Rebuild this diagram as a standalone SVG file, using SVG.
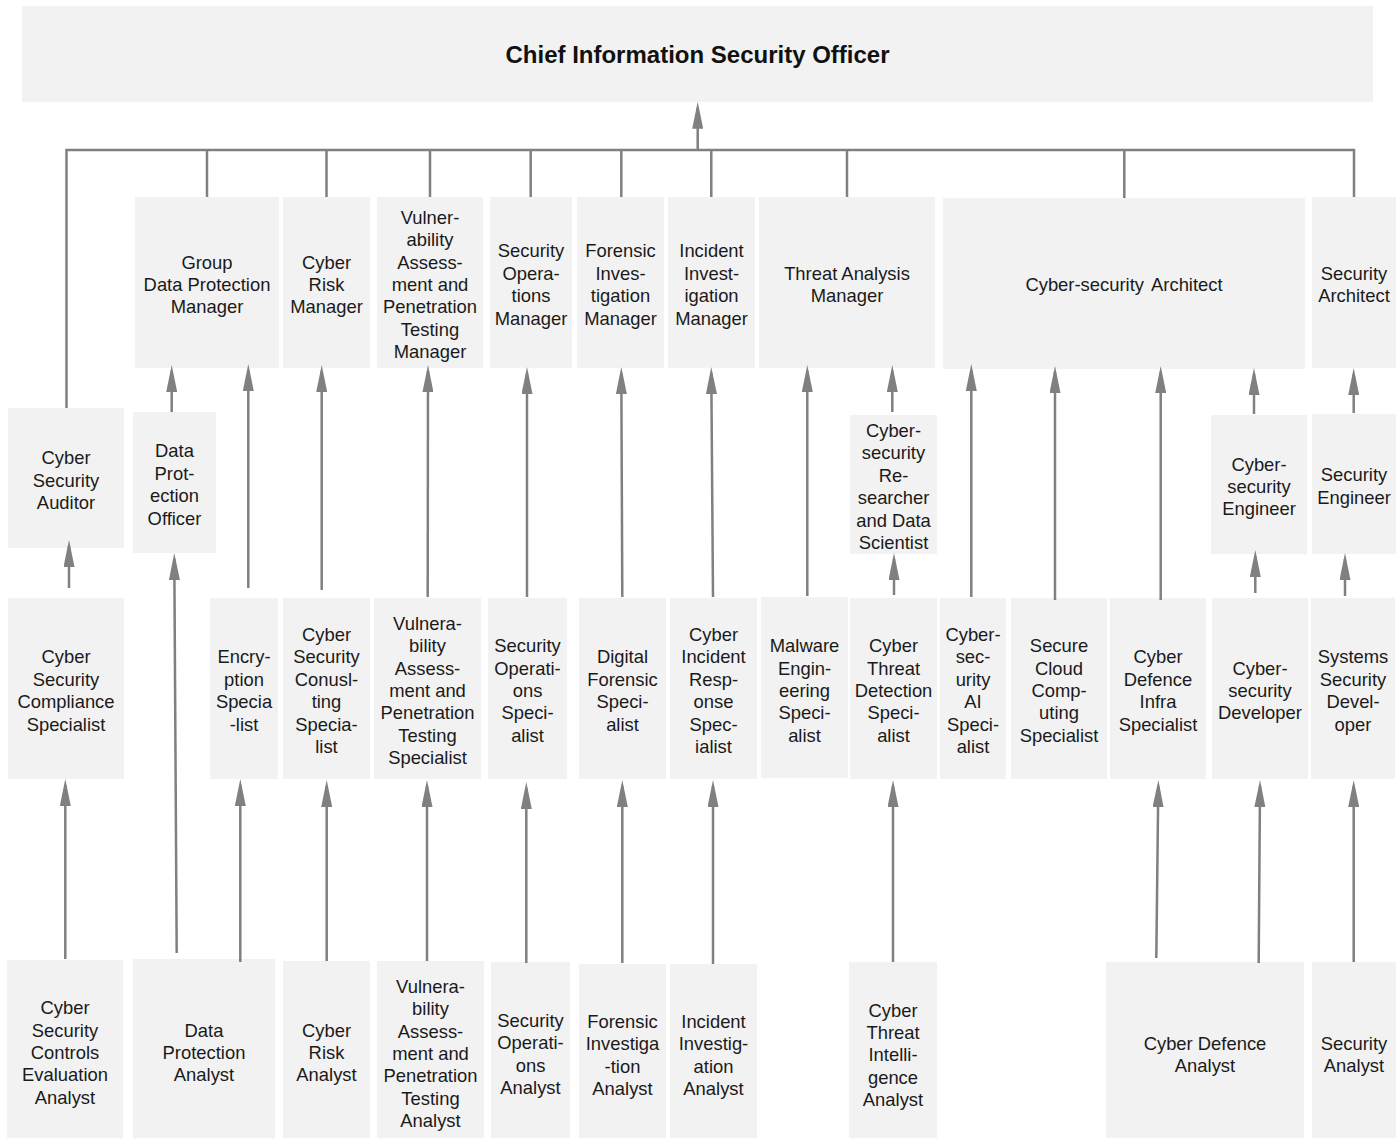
<svg xmlns="http://www.w3.org/2000/svg" width="1400" height="1139" viewBox="0 0 1400 1139">
<style>
.box{fill:#f2f2f2}
.lbl{font-family:"Liberation Sans",Arial,sans-serif;font-size:18.4px;fill:#1a1a1a;text-anchor:middle}
.title{font-family:"Liberation Sans",Arial,sans-serif;font-size:24px;font-weight:bold;fill:#111;text-anchor:middle}
.conn{stroke:#808080;stroke-width:2.5;fill:none}
.arr{stroke:#808080;stroke-width:2.5;fill:none;marker-end:url(#ah)}
</style>
<defs>
<marker id="ah" viewBox="0 0 27 11" refX="21" refY="5.5" markerWidth="27" markerHeight="11" markerUnits="userSpaceOnUse" orient="auto">
<path d="M0,0 L27,5.5 L0,11 z" fill="#808080"/>
</marker>
</defs>
<rect width="1400" height="1139" fill="#ffffff"/>

<g id="ciso"><rect class="box" x="22" y="6" width="1351" height="96"/><text class="title" x="697.5" y="63">Chief Information Security Officer</text></g>

<!-- Managers -->
<g id="group-dpm"><rect class="box" x="135" y="197" width="144" height="171"/><text class="lbl" y="268.6"><tspan x="207">Group</tspan><tspan x="207" dy="22.4">Data Protection</tspan><tspan x="207" dy="22.4">Manager</tspan></text></g>
<g id="cyber-risk-manager"><rect class="box" x="283" y="197" width="87" height="171"/><text class="lbl" y="268.6"><tspan x="326.5">Cyber</tspan><tspan x="326.5" dy="22.4">Risk</tspan><tspan x="326.5" dy="22.4">Manager</tspan></text></g>
<g id="vapt-manager"><rect class="box" x="377" y="197" width="106" height="171"/><text class="lbl" y="223.8"><tspan x="430">Vulner-</tspan><tspan x="430" dy="22.4">ability</tspan><tspan x="430" dy="22.4">Assess-</tspan><tspan x="430" dy="22.4">ment and</tspan><tspan x="430" dy="22.4">Penetration</tspan><tspan x="430" dy="22.4">Testing</tspan><tspan x="430" dy="22.4">Manager</tspan></text></g>
<g id="secops-manager"><rect class="box" x="490" y="197" width="82" height="171"/><text class="lbl" y="257.4"><tspan x="531">Security</tspan><tspan x="531" dy="22.4">Opera-</tspan><tspan x="531" dy="22.4">tions</tspan><tspan x="531" dy="22.4">Manager</tspan></text></g>
<g id="forensic-manager"><rect class="box" x="577" y="197" width="87" height="171"/><text class="lbl" y="257.4"><tspan x="620.5">Forensic</tspan><tspan x="620.5" dy="22.4">Inves-</tspan><tspan x="620.5" dy="22.4">tigation</tspan><tspan x="620.5" dy="22.4">Manager</tspan></text></g>
<g id="incident-manager"><rect class="box" x="668" y="197" width="87" height="171"/><text class="lbl" y="257.4"><tspan x="711.5">Incident</tspan><tspan x="711.5" dy="22.4">Invest-</tspan><tspan x="711.5" dy="22.4">igation</tspan><tspan x="711.5" dy="22.4">Manager</tspan></text></g>
<g id="threat-analysis-manager"><rect class="box" x="759" y="197" width="176" height="171"/><text class="lbl" y="279.8"><tspan x="847">Threat Analysis</tspan><tspan x="847" dy="22.4">Manager</tspan></text></g>
<g id="cs-architect"><rect class="box" x="943" y="198" width="362" height="171"/><text class="lbl" x="1124" y="290.5" word-spacing="3">Cyber-security Architect</text></g>
<g id="security-architect"><rect class="box" x="1312" y="197" width="84" height="171"/><text class="lbl" y="279.8"><tspan x="1354">Security</tspan><tspan x="1354" dy="22.4">Architect</tspan></text></g>

<!-- Level 2 -->
<g id="cs-auditor"><rect class="box" x="8" y="408" width="116" height="140"/><text class="lbl" y="464.1"><tspan x="66">Cyber</tspan><tspan x="66" dy="22.4">Security</tspan><tspan x="66" dy="22.4">Auditor</tspan></text></g>
<g id="dpo"><rect class="box" x="133" y="412" width="83" height="141"/><text class="lbl" y="457.4"><tspan x="174.5">Data</tspan><tspan x="174.5" dy="22.4">Prot-</tspan><tspan x="174.5" dy="22.4">ection</tspan><tspan x="174.5" dy="22.4">Officer</tspan></text></g>
<g id="cs-researcher"><rect class="box" x="850" y="415" width="87" height="139"/><text class="lbl" y="437"><tspan x="893.5">Cyber-</tspan><tspan x="893.5" dy="22.4">security</tspan><tspan x="893.5" dy="22.4">Re-</tspan><tspan x="893.5" dy="22.4">searcher</tspan><tspan x="893.5" dy="22.4">and Data</tspan><tspan x="893.5" dy="22.4">Scientist</tspan></text></g>
<g id="cs-engineer"><rect class="box" x="1211" y="415" width="96" height="139"/><text class="lbl" y="470.6"><tspan x="1259">Cyber-</tspan><tspan x="1259" dy="22.4">security</tspan><tspan x="1259" dy="22.4">Engineer</tspan></text></g>
<g id="security-engineer"><rect class="box" x="1312" y="414" width="84" height="140"/><text class="lbl" y="481.3"><tspan x="1354">Security</tspan><tspan x="1354" dy="22.4">Engineer</tspan></text></g>

<!-- Level 3 -->
<g id="compliance-specialist"><rect class="box" x="8" y="598" width="116" height="181"/><text class="lbl" y="663.4"><tspan x="66">Cyber</tspan><tspan x="66" dy="22.4">Security</tspan><tspan x="66" dy="22.4">Compliance</tspan><tspan x="66" dy="22.4">Specialist</tspan></text></g>
<g id="encryption-specialist"><rect class="box" x="210" y="598" width="68" height="181"/><text class="lbl" y="663.4"><tspan x="244">Encry-</tspan><tspan x="244" dy="22.4">ption</tspan><tspan x="244" dy="22.4">Specia</tspan><tspan x="244" dy="22.4">-list</tspan></text></g>
<g id="consulting-specialist"><rect class="box" x="283" y="598" width="87" height="181"/><text class="lbl" y="641"><tspan x="326.5">Cyber</tspan><tspan x="326.5" dy="22.4">Security</tspan><tspan x="326.5" dy="22.4">Conusl-</tspan><tspan x="326.5" dy="22.4">ting</tspan><tspan x="326.5" dy="22.4">Specia-</tspan><tspan x="326.5" dy="22.4">list</tspan></text></g>
<g id="vapt-specialist"><rect class="box" x="374" y="598" width="107" height="181"/><text class="lbl" y="629.8"><tspan x="427.5">Vulnera-</tspan><tspan x="427.5" dy="22.4">bility</tspan><tspan x="427.5" dy="22.4">Assess-</tspan><tspan x="427.5" dy="22.4">ment and</tspan><tspan x="427.5" dy="22.4">Penetration</tspan><tspan x="427.5" dy="22.4">Testing</tspan><tspan x="427.5" dy="22.4">Specialist</tspan></text></g>
<g id="secops-specialist"><rect class="box" x="488" y="598" width="79" height="181"/><text class="lbl" y="652.2"><tspan x="527.5">Security</tspan><tspan x="527.5" dy="22.4">Operati-</tspan><tspan x="527.5" dy="22.4">ons</tspan><tspan x="527.5" dy="22.4">Speci-</tspan><tspan x="527.5" dy="22.4">alist</tspan></text></g>
<g id="digital-forensic-specialist"><rect class="box" x="579" y="598" width="87" height="181"/><text class="lbl" y="663.4"><tspan x="622.5">Digital</tspan><tspan x="622.5" dy="22.4">Forensic</tspan><tspan x="622.5" dy="22.4">Speci-</tspan><tspan x="622.5" dy="22.4">alist</tspan></text></g>
<g id="incident-response-specialist"><rect class="box" x="670" y="598" width="87" height="181"/><text class="lbl" y="641"><tspan x="713.5">Cyber</tspan><tspan x="713.5" dy="22.4">Incident</tspan><tspan x="713.5" dy="22.4">Resp-</tspan><tspan x="713.5" dy="22.4">onse</tspan><tspan x="713.5" dy="22.4">Spec-</tspan><tspan x="713.5" dy="22.4">ialist</tspan></text></g>
<g id="malware-specialist"><rect class="box" x="761" y="597" width="87" height="181"/><text class="lbl" y="652.2"><tspan x="804.5">Malware</tspan><tspan x="804.5" dy="22.4">Engin-</tspan><tspan x="804.5" dy="22.4">eering</tspan><tspan x="804.5" dy="22.4">Speci-</tspan><tspan x="804.5" dy="22.4">alist</tspan></text></g>
<g id="threat-detection-specialist"><rect class="box" x="850" y="598" width="87" height="181"/><text class="lbl" y="652.2"><tspan x="893.5">Cyber</tspan><tspan x="893.5" dy="22.4">Threat</tspan><tspan x="893.5" dy="22.4">Detection</tspan><tspan x="893.5" dy="22.4">Speci-</tspan><tspan x="893.5" dy="22.4">alist</tspan></text></g>
<g id="ai-specialist"><rect class="box" x="940" y="598" width="66" height="181"/><text class="lbl" y="641"><tspan x="973">Cyber-</tspan><tspan x="973" dy="22.4">sec-</tspan><tspan x="973" dy="22.4">urity</tspan><tspan x="973" dy="22.4">AI</tspan><tspan x="973" dy="22.4">Speci-</tspan><tspan x="973" dy="22.4">alist</tspan></text></g>
<g id="cloud-specialist"><rect class="box" x="1011" y="598" width="96" height="181"/><text class="lbl" y="652.2"><tspan x="1059">Secure</tspan><tspan x="1059" dy="22.4">Cloud</tspan><tspan x="1059" dy="22.4">Comp-</tspan><tspan x="1059" dy="22.4">uting</tspan><tspan x="1059" dy="22.4">Specialist</tspan></text></g>
<g id="infra-specialist"><rect class="box" x="1110" y="598" width="96" height="181"/><text class="lbl" y="663.4"><tspan x="1158">Cyber</tspan><tspan x="1158" dy="22.4">Defence</tspan><tspan x="1158" dy="22.4">Infra</tspan><tspan x="1158" dy="22.4">Specialist</tspan></text></g>
<g id="cs-developer"><rect class="box" x="1212" y="598" width="96" height="181"/><text class="lbl" y="674.6"><tspan x="1260">Cyber-</tspan><tspan x="1260" dy="22.4">security</tspan><tspan x="1260" dy="22.4">Developer</tspan></text></g>
<g id="sys-sec-developer"><rect class="box" x="1311" y="598" width="84" height="181"/><text class="lbl" y="663.4"><tspan x="1353">Systems</tspan><tspan x="1353" dy="22.4">Security</tspan><tspan x="1353" dy="22.4">Devel-</tspan><tspan x="1353" dy="22.4">oper</tspan></text></g>

<!-- Level 4 -->
<g id="controls-analyst"><rect class="box" x="7" y="960" width="116" height="178"/><text class="lbl" y="1014.2"><tspan x="65">Cyber</tspan><tspan x="65" dy="22.4">Security</tspan><tspan x="65" dy="22.4">Controls</tspan><tspan x="65" dy="22.4">Evaluation</tspan><tspan x="65" dy="22.4">Analyst</tspan></text></g>
<g id="dp-analyst"><rect class="box" x="133" y="959" width="142" height="179"/><text class="lbl" y="1036.6"><tspan x="204">Data</tspan><tspan x="204" dy="22.4">Protection</tspan><tspan x="204" dy="22.4">Analyst</tspan></text></g>
<g id="cyber-risk-analyst"><rect class="box" x="283" y="961" width="87" height="177"/><text class="lbl" y="1036.6"><tspan x="326.5">Cyber</tspan><tspan x="326.5" dy="22.4">Risk</tspan><tspan x="326.5" dy="22.4">Analyst</tspan></text></g>
<g id="vapt-analyst"><rect class="box" x="377" y="961" width="107" height="177"/><text class="lbl" y="992.8"><tspan x="430.5">Vulnera-</tspan><tspan x="430.5" dy="22.4">bility</tspan><tspan x="430.5" dy="22.4">Assess-</tspan><tspan x="430.5" dy="22.4">ment and</tspan><tspan x="430.5" dy="22.4">Penetration</tspan><tspan x="430.5" dy="22.4">Testing</tspan><tspan x="430.5" dy="22.4">Analyst</tspan></text></g>
<g id="secops-analyst"><rect class="box" x="491" y="962" width="79" height="176"/><text class="lbl" y="1026.8"><tspan x="530.5">Security</tspan><tspan x="530.5" dy="22.4">Operati-</tspan><tspan x="530.5" dy="22.4">ons</tspan><tspan x="530.5" dy="22.4">Analyst</tspan></text></g>
<g id="forensic-analyst"><rect class="box" x="579" y="964" width="87" height="174"/><text class="lbl" y="1028"><tspan x="622.5">Forensic</tspan><tspan x="622.5" dy="22.4">Investiga</tspan><tspan x="622.5" dy="22.4">-tion</tspan><tspan x="622.5" dy="22.4">Analyst</tspan></text></g>
<g id="incident-analyst"><rect class="box" x="670" y="964" width="87" height="174"/><text class="lbl" y="1028"><tspan x="713.5">Incident</tspan><tspan x="713.5" dy="22.4">Investig-</tspan><tspan x="713.5" dy="22.4">ation</tspan><tspan x="713.5" dy="22.4">Analyst</tspan></text></g>
<g id="cti-analyst"><rect class="box" x="849" y="962" width="88" height="176"/><text class="lbl" y="1016.6"><tspan x="893">Cyber</tspan><tspan x="893" dy="22.4">Threat</tspan><tspan x="893" dy="22.4">Intelli-</tspan><tspan x="893" dy="22.4">gence</tspan><tspan x="893" dy="22.4">Analyst</tspan></text></g>
<g id="cyber-defence-analyst"><rect class="box" x="1106" y="962" width="198" height="176"/><text class="lbl" y="1049.9"><tspan x="1205">Cyber Defence</tspan><tspan x="1205" dy="22.4">Analyst</tspan></text></g>
<g id="security-analyst"><rect class="box" x="1312" y="962" width="84" height="176"/><text class="lbl" y="1049.9"><tspan x="1354">Security</tspan><tspan x="1354" dy="22.4">Analyst</tspan></text></g>

<g id="connectors">
<path class="conn" d="M66.5,408 V150 H1354 V197"/>
<path class="conn" d="M207,150 V197 M326.5,150 V197 M430,150 V197 M530.7,150 V197 M621.3,150 V197 M711.3,150 V197 M847,150 V197 M1124.3,150 V198"/>
<line class="arr" x1="697.7" y1="150" x2="697.7" y2="107.7"/>

<line class="arr" x1="69" y1="588" x2="69" y2="546"/>
<line class="arr" x1="176.7" y1="953" x2="174.3" y2="559"/>
<line class="arr" x1="171.7" y1="412" x2="171.7" y2="371"/>
<line class="arr" x1="248.3" y1="588" x2="248.3" y2="370"/>
<line class="arr" x1="321.7" y1="590" x2="321.7" y2="371"/>
<line class="arr" x1="427.7" y1="597" x2="428" y2="371"/>
<line class="arr" x1="527" y1="597" x2="527" y2="373"/>
<line class="arr" x1="622.3" y1="597" x2="621.3" y2="373"/>
<line class="arr" x1="713" y1="597" x2="711.3" y2="373"/>
<line class="arr" x1="807.3" y1="596" x2="807.3" y2="371"/>
<line class="arr" x1="892.3" y1="412" x2="892.3" y2="371"/>
<line class="arr" x1="894" y1="595" x2="894" y2="559"/>
<line class="arr" x1="971.3" y1="597" x2="971.3" y2="370"/>
<line class="arr" x1="1055" y1="600" x2="1055" y2="372"/>
<line class="arr" x1="1160.7" y1="600" x2="1160.7" y2="372"/>
<line class="arr" x1="1254" y1="414" x2="1254" y2="374"/>
<line class="arr" x1="1353.7" y1="413" x2="1353.7" y2="374"/>
<line class="arr" x1="1255.3" y1="593" x2="1255.3" y2="556"/>
<line class="arr" x1="1345" y1="596" x2="1345" y2="559"/>

<line class="arr" x1="65.3" y1="959" x2="65.3" y2="785"/>
<line class="arr" x1="240.3" y1="962" x2="240.3" y2="785"/>
<line class="arr" x1="326.7" y1="961" x2="326.7" y2="786"/>
<line class="arr" x1="427" y1="961" x2="427" y2="786"/>
<line class="arr" x1="526.3" y1="963" x2="526.3" y2="788"/>
<line class="arr" x1="622.3" y1="963" x2="622.3" y2="786"/>
<line class="arr" x1="713" y1="964" x2="713" y2="786"/>
<line class="arr" x1="893" y1="962" x2="893" y2="786"/>
<line class="arr" x1="1156.3" y1="958" x2="1158.3" y2="786"/>
<line class="arr" x1="1258.7" y1="963" x2="1260" y2="786"/>
<line class="arr" x1="1353.7" y1="962" x2="1353.7" y2="786"/>
</g>
</svg>
